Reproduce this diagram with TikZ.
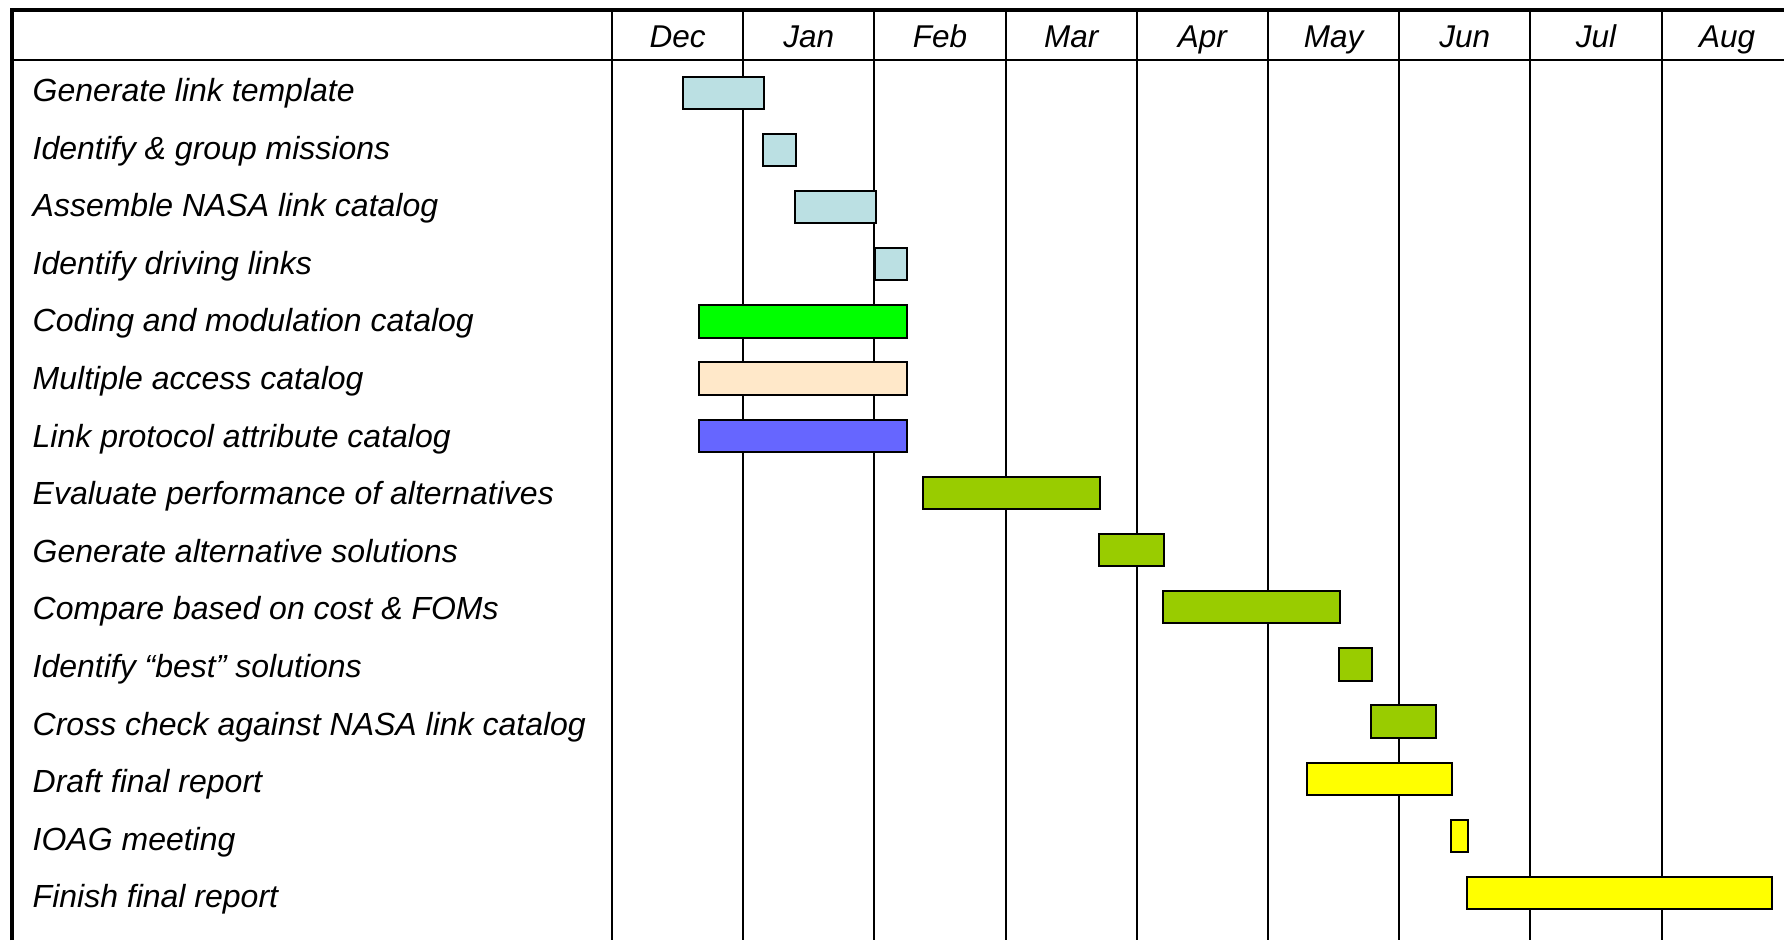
\documentclass[tikz,border=0pt]{standalone}
\usepackage{fontspec}
\setmainfont{Liberation Sans}
\begin{document}
\begin{tikzpicture}[x=1pt,y=-1pt,
  grid/.style={line width=2pt,black},
  frame/.style={line width=4pt,black},
  bar/.style={draw=black,line width=2pt},
  task/.style={anchor=base west,inner sep=0pt,font=\fontsize{32}{36}\selectfont\itshape},
  month/.style={anchor=base,inner sep=0pt,font=\fontsize{31.5}{36}\selectfont\itshape}]
  \definecolor{lblue}{HTML}{BBE0E3}
  \definecolor{lgreen}{HTML}{00FF00}
  \definecolor{peach}{HTML}{FFE8C9}
  \definecolor{violet}{HTML}{6666FF}
  \definecolor{olive}{HTML}{99CC00}
  \definecolor{yel}{HTML}{FFFF00}
  \useasboundingbox (0,0) rectangle (1784,940);
  \fill[white] (0,0) rectangle (1784,940);

  % grid: label column and month columns
  \foreach \k in {0,...,8} {
    \draw[grid] ({612+131.2*\k},10) -- ({612+131.2*\k},940);
  }
  \draw[grid] (12,60) -- (1784,60);
  % outer frame (top and left)
  \draw[frame] (12,940) -- (12,10) -- (1784,10);

  % month headings
  \foreach \m [count=\k from 0] in {Dec,Jan,Feb,Mar,Apr,May,Jun,Jul,Aug} {
    \node[month] (m\k) at ({612+131.2*(\k+0.5)},47) {\m};
  }

  % task names
  \foreach \t [count=\i from 1] in {
    Generate link template,
    Identify \& group missions,
    Assemble NASA link catalog,
    Identify driving links,
    Coding and modulation catalog,
    Multiple access catalog,
    Link protocol attribute catalog,
    Evaluate performance of alternatives,
    Generate alternative solutions,
    Compare based on cost \& FOMs,
    Identify “best” solutions,
    Cross check against NASA link catalog,
    Draft final report,
    IOAG meeting,
    Finish final report} {
    \node[task] (t\i) at (32.5,{101.5+57.6*(\i-1)}) {\t};
  }

  % schedule bars: start, end, colour
  \foreach \a/\b/\c [count=\i from 1] in {
    683.3/763.7/lblue,
    763.3/795.7/lblue,
    795/875.7/lblue,
    875.3/907.3/lblue,
    699.3/907.3/lgreen,
    699.3/907.3/peach,
    699.3/907.3/violet,
    922.7/1100/olive,
    1099/1163.7/olive,
    1163.3/1340/olive,
    1339/1371.7/olive,
    1371/1435.7/olive,
    1307/1451.7/yel,
    1451/1467.7/yel,
    1467.4/1771.7/yel} {
    \draw[bar,fill=\c] (\a,{76.7+57.15*(\i-1)}) rectangle (\b,{109+57.15*(\i-1)});
  }
\end{tikzpicture}
\end{document}
